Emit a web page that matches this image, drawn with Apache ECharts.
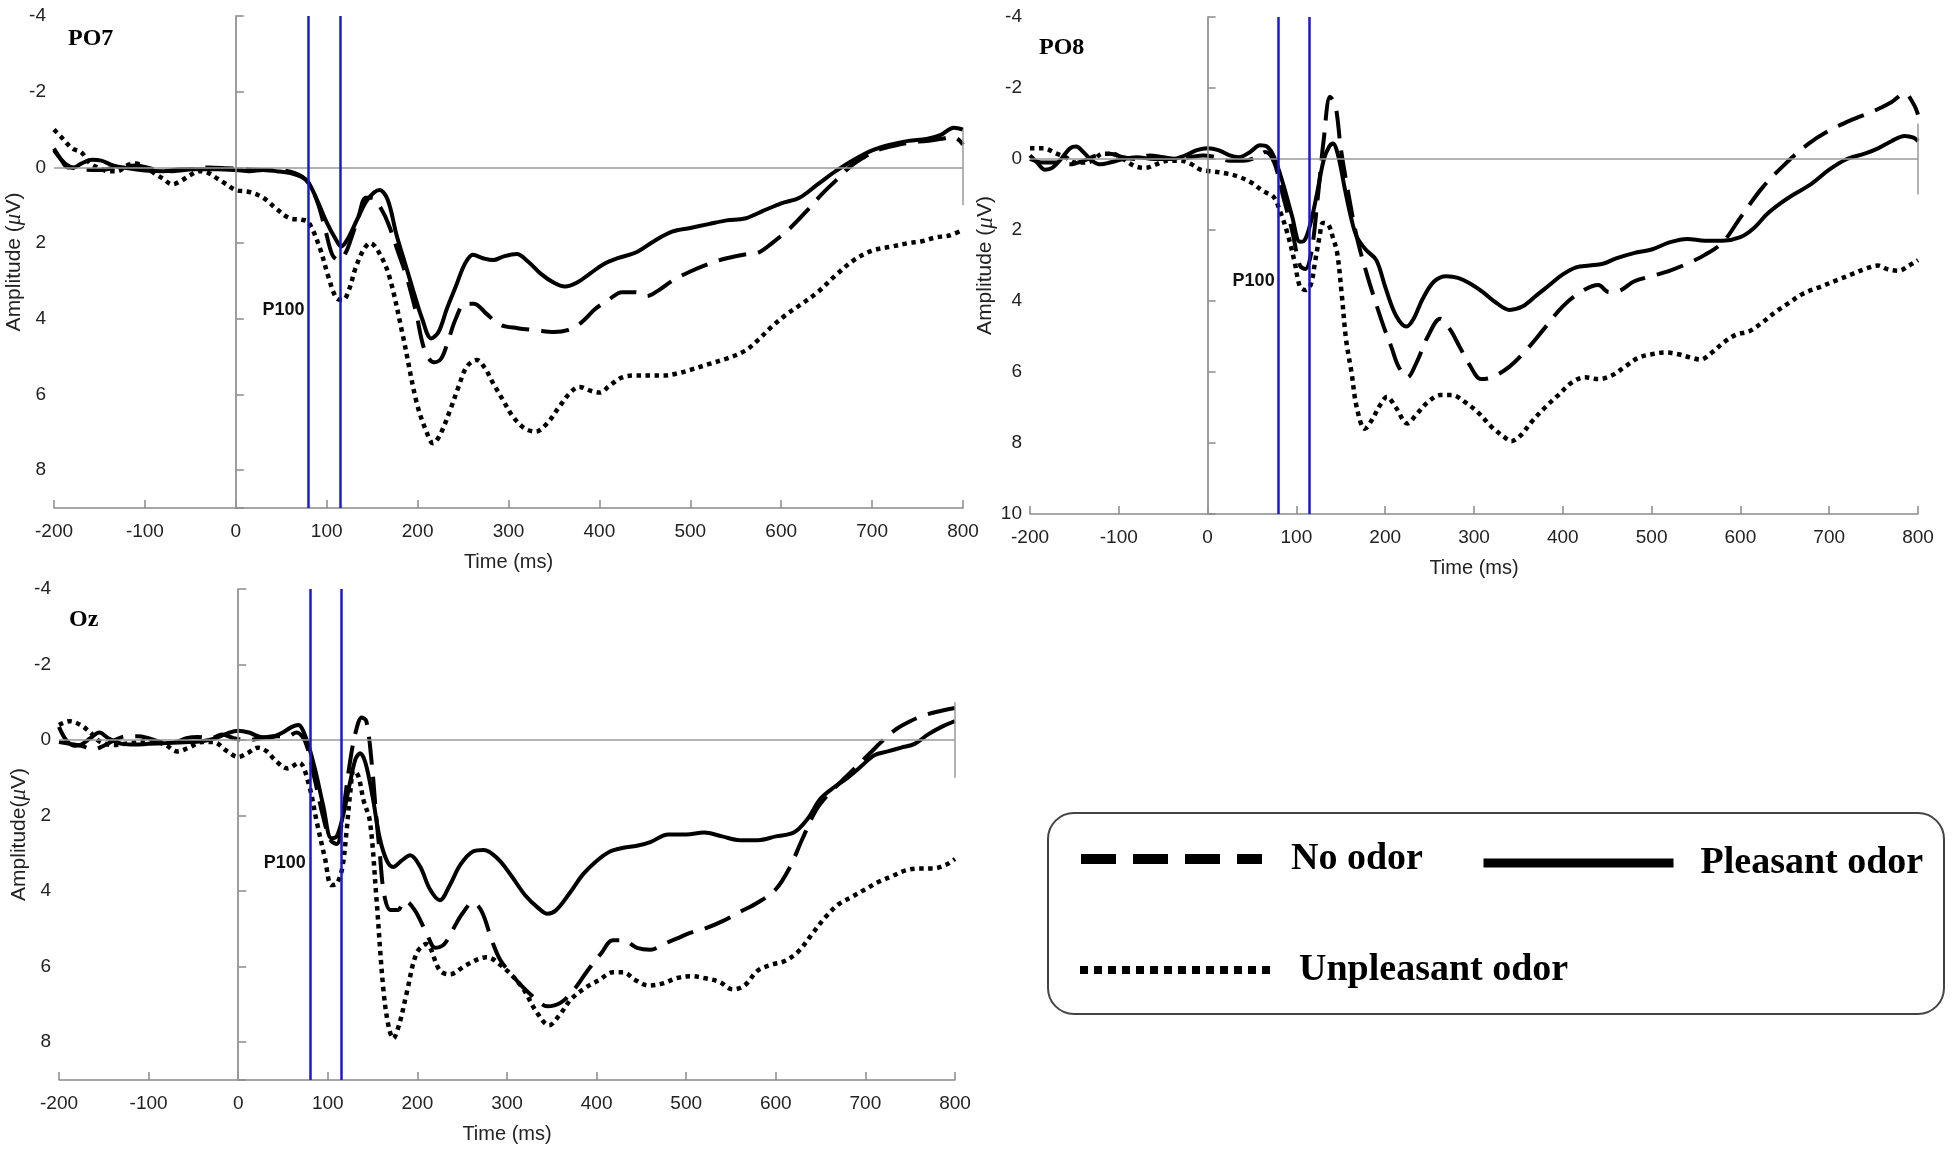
<!DOCTYPE html>
<html>
<head>
<meta charset="utf-8">
<script src="https://cdn.jsdelivr.net/npm/echarts@6/dist/echarts.min.js"></script>
<style>
html,body{margin:0;padding:0;background:#fff;}
#chart{width:1957px;height:1153px;}
</style>
</head>
<body>
<div id="chart"></div>
<script>
// ---- Data (time in ms, amplitude in µV) ----
const xTicks = [-200,-100,0,100,200,300,400,500,600,700,800];
const seriesNames = ['No odor','Pleasant odor','Unpleasant odor'];
const panelNames = ['PO7','PO8','Oz'];
const p100Window = [80,115];

const PO7_noOdor = [[-200,-0.45],[-185,-0.05],[-170,0.05],[-150,0.07],[-130,0.0],[-110,-0.05],[-90,0.05],[-70,0.1],[-50,0.05],[-30,0.0],[-10,0.02],[10,0.05],[30,0.07],[50,0.08],[65,0.15],[78,0.35],[89,0.86],[98,1.6],[106,2.3],[113,2.45],[121,2.25],[128,1.8],[135,1.3],[143,0.8],[150,0.8],[160,1.1],[168,1.5],[178,2.2],[188,2.9],[198,3.8],[208,4.85],[218,5.15],[226,5.05],[234,4.55],[242,4.0],[252,3.6],[262,3.6],[275,3.85],[290,4.15],[310,4.25],[330,4.3],[350,4.35],[365,4.3],[380,4.1],[395,3.75],[410,3.5],[425,3.3],[440,3.3],[452,3.4],[465,3.25],[480,3.0],[500,2.75],[520,2.55],[540,2.4],[560,2.3],[575,2.25],[590,2.0],[610,1.6],[630,1.1],[645,0.7],[660,0.35],[675,0.0],[690,-0.25],[705,-0.45],[720,-0.55],[740,-0.65],[760,-0.7],[775,-0.75],[790,-0.8],[800,-0.6]];
const PO7_pleasant = [[-200,-0.5],[-192,-0.2],[-185,0.0],[-178,0.0],[-170,-0.1],[-158,-0.2],[-148,-0.18],[-135,-0.05],[-120,0.02],[-100,0.08],[-80,0.1],[-60,0.05],[-40,0.05],[-20,0.05],[0,0.07],[15,0.1],[30,0.07],[45,0.1],[60,0.15],[72,0.25],[80,0.4],[90,0.9],[100,1.45],[110,1.9],[116,2.09],[124,1.85],[134,1.35],[145,0.85],[158,0.6],[167,0.85],[177,1.8],[187,2.6],[195,3.24],[205,4.0],[215,4.52],[223,4.35],[232,3.75],[242,3.15],[252,2.55],[261,2.31],[272,2.4],[283,2.45],[295,2.35],[309,2.29],[322,2.5],[335,2.8],[350,3.05],[362,3.15],[375,3.05],[390,2.8],[405,2.55],[420,2.4],[440,2.25],[460,1.95],[480,1.7],[500,1.6],[520,1.5],[540,1.4],[560,1.35],[580,1.15],[600,0.95],[620,0.8],[640,0.45],[660,0.1],[680,-0.2],[700,-0.45],[720,-0.6],[740,-0.7],[760,-0.75],[775,-0.85],[790,-1.05],[800,-1.0]];
const PO7_unpleasant = [[-200,-1.0],[-190,-0.75],[-180,-0.5],[-170,-0.4],[-160,-0.1],[-150,0.02],[-140,0.1],[-130,0.1],[-120,-0.05],[-110,-0.1],[-100,0.0],[-90,0.15],[-80,0.3],[-70,0.45],[-60,0.35],[-50,0.2],[-40,0.1],[-30,0.15],[-20,0.3],[-10,0.45],[0,0.6],[15,0.65],[30,0.8],[45,1.1],[60,1.35],[72,1.38],[80,1.45],[92,2.1],[102,2.9],[111,3.46],[118,3.5],[125,3.2],[131,2.71],[140,2.2],[148,2.0],[158,2.27],[169,2.89],[184,4.47],[199,6.22],[210,7.0],[217,7.29],[225,7.05],[236,6.4],[245,5.8],[254,5.27],[265,5.09],[274,5.3],[283,5.7],[294,6.15],[305,6.59],[318,6.9],[330,6.98],[343,6.75],[356,6.32],[368,5.95],[378,5.8],[390,5.9],[400,5.95],[412,5.75],[425,5.55],[440,5.5],[455,5.5],[470,5.5],[485,5.45],[500,5.35],[520,5.2],[540,5.05],[560,4.85],[575,4.55],[590,4.2],[605,3.9],[620,3.65],[640,3.3],[660,2.85],[680,2.45],[700,2.2],[720,2.1],[740,2.0],[755,1.95],[770,1.85],[785,1.8],[800,1.65]];

const PO8_noOdor = [[-200,0.0],[-185,0.1],[-170,0.1],[-155,0.15],[-140,0.05],[-125,-0.1],[-110,-0.15],[-95,-0.05],[-80,0.0],[-65,-0.1],[-50,-0.05],[-35,0.0],[-20,-0.05],[-5,-0.1],[10,-0.05],[25,0.05],[40,0.05],[55,-0.05],[65,-0.2],[75,0.1],[85,1.05],[95,2.0],[104,3.0],[110,3.1],[117,2.6],[124,1.1],[131,-0.6],[138,-1.75],[144,-1.5],[150,-0.3],[158,0.9],[168,2.2],[180,3.3],[190,4.1],[198,4.7],[207,5.3],[215,5.85],[225,6.15],[235,5.75],[248,5.0],[262,4.5],[273,4.8],[284,5.3],[295,5.8],[308,6.2],[320,6.15],[340,5.85],[360,5.35],[380,4.75],[400,4.15],[420,3.75],[440,3.55],[452,3.75],[465,3.7],[480,3.45],[500,3.3],[520,3.15],[540,2.95],[560,2.7],[580,2.35],[600,1.65],[625,0.8],[650,0.15],[675,-0.4],[700,-0.8],[725,-1.1],[750,-1.35],[770,-1.6],[785,-1.85],[795,-1.55],[800,-1.25]];
const PO8_pleasant = [[-200,-0.1],[-192,0.1],[-183,0.3],[-175,0.25],[-165,0.0],[-155,-0.3],[-148,-0.35],[-140,-0.2],[-130,0.05],[-120,0.15],[-110,0.1],[-95,0.0],[-80,-0.05],[-60,0.0],[-40,0.0],[-25,-0.1],[-12,-0.25],[0,-0.3],[12,-0.25],[25,-0.1],[35,-0.05],[48,-0.2],[59,-0.39],[67,-0.35],[75,-0.05],[85,0.7],[95,1.6],[104,2.33],[109,2.3],[116,1.8],[123,1.0],[131,0.0],[137,-0.35],[141,-0.44],[147,-0.1],[155,0.9],[162,1.7],[168,2.19],[178,2.55],[190,2.85],[200,3.6],[212,4.4],[224,4.72],[232,4.5],[242,3.95],[255,3.45],[269,3.3],[282,3.35],[295,3.5],[310,3.75],[325,4.05],[340,4.25],[355,4.15],[370,3.85],[385,3.55],[400,3.25],[415,3.05],[430,3.0],[445,2.95],[460,2.8],[480,2.65],[500,2.55],[520,2.35],[540,2.25],[560,2.3],[580,2.3],[600,2.2],[615,1.95],[630,1.55],[645,1.25],[660,1.0],[680,0.7],[700,0.3],[720,0.0],[740,-0.15],[755,-0.3],[770,-0.5],[785,-0.65],[795,-0.6],[800,-0.5]];
const PO8_unpleasant = [[-200,-0.3],[-185,-0.3],[-170,-0.15],[-160,-0.05],[-150,0.1],[-140,0.1],[-130,0.05],[-118,-0.15],[-108,-0.15],[-95,0.0],[-82,0.2],[-70,0.25],[-58,0.15],[-45,0.05],[-30,0.05],[-18,0.15],[-8,0.3],[5,0.35],[20,0.4],[35,0.5],[51,0.69],[62,0.9],[74,1.06],[82,1.5],[90,2.1],[98,2.9],[104,3.6],[110,3.69],[116,3.55],[121,2.9],[126,2.2],[130,1.8],[136,1.85],[141,2.2],[146,2.66],[151,3.8],[156,5.1],[162,6.0],[168,7.0],[177,7.6],[185,7.35],[195,6.9],[202,6.7],[212,7.0],[225,7.45],[235,7.2],[248,6.85],[262,6.65],[275,6.65],[290,6.85],[305,7.15],[320,7.55],[335,7.85],[342,7.95],[352,7.8],[365,7.4],[380,7.0],[395,6.65],[410,6.3],[425,6.15],[440,6.2],[455,6.1],[470,5.85],[485,5.6],[500,5.5],[515,5.45],[530,5.5],[545,5.6],[555,5.65],[568,5.45],[582,5.15],[595,4.95],[610,4.85],[625,4.6],[640,4.3],[655,4.05],[670,3.8],[690,3.6],[710,3.4],[725,3.25],[740,3.1],[755,3.0],[765,3.1],[778,3.15],[790,3.0],[800,2.85]];

const Oz_noOdor = [[-200,0.05],[-188,0.1],[-175,0.15],[-162,0.25],[-150,0.15],[-138,0.0],[-125,-0.1],[-112,-0.1],[-100,-0.05],[-85,0.05],[-70,0.05],[-58,-0.05],[-45,-0.08],[-30,-0.05],[-18,-0.15],[-5,-0.05],[10,0.0],[25,-0.05],[40,-0.1],[55,-0.1],[65,-0.2],[75,0.05],[85,1.0],[95,2.05],[103,2.65],[110,2.75],[117,1.9],[124,0.7],[131,-0.2],[138,-0.6],[143,-0.5],[149,0.6],[154,2.0],[158,3.0],[163,4.1],[170,4.5],[178,4.5],[186,4.25],[197,4.5],[210,5.1],[220,5.5],[230,5.4],[240,5.0],[250,4.6],[262,4.3],[272,4.55],[283,5.3],[292,5.8],[305,6.2],[318,6.55],[332,6.85],[345,7.05],[360,6.95],[375,6.6],[390,6.1],[405,5.65],[418,5.3],[430,5.3],[445,5.5],[460,5.55],[475,5.4],[490,5.25],[505,5.1],[520,5.0],[540,4.8],[560,4.55],[580,4.3],[600,3.95],[615,3.4],[630,2.6],[645,1.85],[660,1.4],[675,1.05],[690,0.7],[705,0.35],[720,0.0],[735,-0.3],[750,-0.5],[765,-0.65],[780,-0.75],[800,-0.85]];
const Oz_pleasant = [[-200,-0.35],[-192,0.0],[-183,0.15],[-175,0.12],[-165,-0.05],[-155,-0.2],[-145,-0.05],[-130,0.1],[-115,0.12],[-100,0.1],[-80,0.08],[-60,0.06],[-40,0.03],[-25,-0.05],[-10,-0.2],[0,-0.25],[12,-0.2],[25,-0.08],[35,-0.07],[48,-0.18],[60,-0.35],[67,-0.4],[75,-0.1],[85,0.7],[95,1.75],[104,2.6],[110,2.55],[117,2.0],[125,1.1],[131,0.5],[136,0.35],[142,0.6],[150,1.5],[158,2.6],[166,3.2],[173,3.36],[182,3.2],[192,3.05],[203,3.35],[214,3.95],[225,4.24],[236,3.85],[248,3.3],[262,2.95],[274,2.91],[290,3.15],[305,3.6],[320,4.1],[335,4.45],[345,4.6],[355,4.5],[370,4.05],[385,3.55],[400,3.2],[415,2.95],[430,2.85],[445,2.8],[460,2.7],[480,2.5],[500,2.5],[520,2.45],[540,2.55],[560,2.65],[580,2.65],[600,2.55],[620,2.45],[635,2.1],[650,1.55],[665,1.25],[680,1.0],[695,0.7],[710,0.4],[725,0.3],[740,0.2],[755,0.1],[770,-0.15],[785,-0.35],[800,-0.5]];
const Oz_unpleasant = [[-200,-0.4],[-188,-0.5],[-176,-0.4],[-165,-0.2],[-155,0.03],[-140,0.13],[-120,0.08],[-100,0.03],[-82,0.12],[-68,0.3],[-55,0.2],[-40,0.05],[-28,0.05],[-12,0.3],[0,0.45],[10,0.35],[22,0.2],[32,0.3],[42,0.55],[55,0.75],[68,0.6],[78,1.1],[88,2.2],[97,3.15],[104,3.84],[110,3.8],[116,3.4],[121,2.4],[125,1.4],[129,0.8],[134,0.95],[140,1.6],[147,2.15],[154,4.1],[162,6.6],[168,7.6],[173,7.9],[180,7.5],[188,6.7],[199,5.65],[210,5.4],[225,6.1],[236,6.2],[255,5.95],[277,5.75],[295,6.0],[317,6.55],[333,7.2],[347,7.55],[358,7.3],[372,6.85],[388,6.55],[403,6.35],[418,6.15],[430,6.15],[443,6.35],[458,6.5],[473,6.45],[490,6.3],[505,6.25],[520,6.3],[537,6.4],[552,6.6],[565,6.5],[580,6.1],[595,5.95],[610,5.85],[625,5.6],[640,5.15],[655,4.7],[670,4.35],[685,4.15],[700,3.95],[715,3.75],[730,3.6],[745,3.45],[760,3.4],[775,3.4],[790,3.3],[800,3.15]];

const panelData = [
  [PO7_noOdor, PO7_pleasant, PO7_unpleasant],
  [PO8_noOdor, PO8_pleasant, PO8_unpleasant],
  [Oz_noOdor, Oz_pleasant, Oz_unpleasant]
];
const yMin = [-4,-4,-4];
const yMax = [9,10,9];
const p100LabelY = [3.77, 3.45, 3.25];
const yNames = ['Amplitude ({mu|\u03BC}V)','Amplitude ({mu|\u03BC}V)','Amplitude({mu|\u03BC}V)'];

// ---- Layout / style ----
const grids = [
  {left:54, top:16, width:909, height:492},
  {left:1030, top:17, width:888, height:497},
  {left:59, top:589, width:896, height:491}
];
const axisGray = '#8a8a8a';
const labelFont = 'Liberation Sans, Arial, sans-serif';
const serifFont = 'Liberation Serif, Times New Roman, serif';
const lineStyles = [
  {color:'#000', width:4, type:[28,12]},
  {color:'#000', width:4, type:'solid'},
  {color:'#000', width:4.5, type:[4.5,4.5]}
];

const chart = echarts.init(document.getElementById('chart'), null, {renderer:'canvas'});
const legendText = (pad) => ({fontFamily:serifFont, fontWeight:'bold', fontSize:38, color:'#000', padding:[0,0,0,pad]});
const option = {
  backgroundColor:'#fff',
  animation:false,
  color:['#000','#000','#000'],
  title: panelNames.map((n,i)=>({
    text:n, padding:0,
    left: [68,1039,69][i], top: [27,36,608][i],
    textStyle:{fontFamily:serifFont, fontWeight:'bold', fontSize:24, color:'#000'}
  })),
  grid: grids.map(g=>Object.assign({containLabel:false}, g)),
  xAxis: grids.map((g,i)=>({
    gridIndex:i, type:'value', min:-200, max:800, interval:100,
    name:'Time (ms)', nameLocation:'middle', nameGap:44,
    nameTextStyle:{fontFamily:labelFont, fontSize:20, color:'#222'},
    axisLine:{show:true, onZero:false, lineStyle:{color:axisGray, width:1.5}},
    axisTick:{show:true, inside:true, length:8, lineStyle:{color:axisGray, width:1.5}},
    axisLabel:{fontFamily:labelFont, fontSize:19, color:'#222', margin:14},
    splitLine:{show:false}
  })),
  yAxis: grids.map((g,i)=>({
    gridIndex:i, type:'value', inverse:true, min:yMin[i], max:yMax[i], interval:2,
    name:yNames[i], nameLocation:'middle', nameGap:[27,32,28][i],
    nameTextStyle:{fontFamily:labelFont, fontSize:21, color:'#222',
      rich:{mu:{fontFamily:serifFont, fontStyle:'italic', fontSize:23, color:'#222'}}},
    axisLine:{show:true, lineStyle:{color:axisGray, width:1.5}},
    axisTick:{show:true, inside:true, length:8, lineStyle:{color:axisGray, width:1.5}},
    axisLabel:{fontFamily:labelFont, fontSize:19, color:'#222', margin:8,
      formatter:v=> (v % 2 === 0 ? String(v) : '')},
    splitLine:{show:false}
  })),
  legend: [
    {data:['No odor'], left:1076, top:840, orient:'horizontal', padding:0, itemGap:0,
     itemWidth:181, itemHeight:10, selectedMode:false,
     itemStyle:{color:'rgba(0,0,0,0)', borderWidth:0},
     lineStyle:{color:'#000', width:10, type:[35,17], cap:'butt'},
     textStyle:legendText(24)},
    {data:['Pleasant odor'], left:1479, top:844, orient:'horizontal', padding:0, itemGap:0,
     itemWidth:190, itemHeight:10, selectedMode:false,
     itemStyle:{color:'rgba(0,0,0,0)', borderWidth:0},
     lineStyle:{color:'#000', width:9, type:'solid'},
     textStyle:legendText(22)},
    {data:['Unpleasant odor'], left:1076, top:951, orient:'horizontal', padding:0, itemGap:0,
     itemWidth:190, itemHeight:8, selectedMode:false,
     itemStyle:{color:'rgba(0,0,0,0)', borderWidth:0},
     lineStyle:{color:'#000', width:8, type:[8,6], cap:'butt'},
     textStyle:legendText(24)}
  ],
  graphic: [
    {type:'rect', left:1047, top:812, z:-1, silent:true,
     shape:{width:896, height:201, r:26},
     style:{fill:'#fff', stroke:'#444', lineWidth:2}}
  ],
  series: []
};

panelData.forEach((arrs, i) => {
  // reference lines (gray zero lines + right-hand stub)
  option.series.push({
    type:'line', xAxisIndex:i, yAxisIndex:i, data:[], z:1, silent:true,
    markLine:{
      silent:true, symbol:['none','none'], label:{show:false},
      lineStyle:{color:'#9a9a9a', width:1.5, type:'solid'},
      data:[
        {xAxis:0},
        {yAxis:0},
        [{coord:[800,-1]},{coord:[800,1]}]
      ]
    }
  });
  arrs.forEach((d, k) => {
    option.series.push({
      name: seriesNames[k], type:'line', xAxisIndex:i, yAxisIndex:i,
      data: d, smooth:0.35, showSymbol:false, symbol:'none',
      itemStyle:{color:'#000'},
      lineStyle: Object.assign({cap:'butt'}, lineStyles[k]), z:3, silent:true
    });
  });
  // P100 window (blue) + label
  option.series.push({
    type:'line', xAxisIndex:i, yAxisIndex:i, data:[], z:5, silent:true,
    markLine:{
      silent:true, symbol:['none','none'], label:{show:false},
      lineStyle:{color:'#1a1ad0', width:2.5, type:'solid'},
      data: p100Window.map(v=>({xAxis:v}))
    },
    markPoint:{
      silent:true, symbol:'circle', symbolSize:0,
      itemStyle:{color:'rgba(0,0,0,0)'},
      label:{show:true, position:'left', distance:4, formatter:'P100',
        fontFamily:labelFont, fontWeight:'bold', fontSize:18, color:'#111'},
      data:[{coord:[p100Window[0], p100LabelY[i]]}]
    }
  });
});

chart.setOption(option);
</script>
</body>
</html>
